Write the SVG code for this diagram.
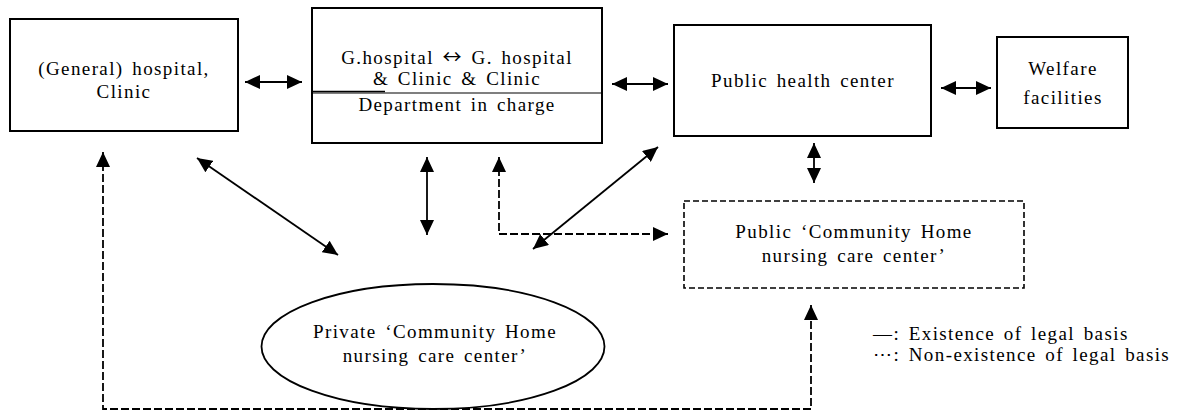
<svg xmlns="http://www.w3.org/2000/svg" width="1188" height="412" viewBox="0 0 1188 412">
<style>
  text { font-family: "Liberation Serif", "Times New Roman", serif; font-size: 19px; letter-spacing: 1.4px; word-spacing: 2.5px; fill: #000; }
  .c { text-anchor: middle; }
  .arr { font-family: "Noto Sans CJK KR", "DejaVu Sans", sans-serif; font-size: 19px; }
  .box { fill: #fff; stroke: #000; stroke-width: 2; }
  .dbox { fill: #fff; stroke: #000; stroke-width: 1.6; stroke-dasharray: 6 3; }
  .solid { fill: none; stroke: #000; stroke-width: 1.8; }
  .dash { fill: none; stroke: #000; stroke-width: 1.8; stroke-dasharray: 8 3; }
</style>
<defs>
  <marker id="ah" viewBox="0 0 15 14" refX="15" refY="7" markerWidth="15" markerHeight="14" markerUnits="userSpaceOnUse" orient="auto-start-reverse">
    <path d="M0,0 L15,7 L0,14 z" fill="#000"/>
  </marker>
</defs>
<rect width="1188" height="412" fill="#fff"/>

<g id="connectors">
  <line class="solid" x1="245" y1="82" x2="302" y2="82" marker-start="url(#ah)" marker-end="url(#ah)"/>
  <line class="solid" x1="612" y1="84" x2="668" y2="84" marker-start="url(#ah)" marker-end="url(#ah)"/>
  <line class="solid" x1="941" y1="88" x2="991" y2="88" marker-start="url(#ah)" marker-end="url(#ah)"/>
  <line class="solid" x1="814" y1="143" x2="814" y2="183" marker-start="url(#ah)" marker-end="url(#ah)"/>
  <line class="solid" x1="197" y1="158" x2="338" y2="255" marker-start="url(#ah)" marker-end="url(#ah)"/>
  <line class="solid" x1="427" y1="157" x2="427" y2="235" marker-start="url(#ah)" marker-end="url(#ah)"/>
  <line class="solid" x1="658" y1="147" x2="533" y2="249" marker-start="url(#ah)" marker-end="url(#ah)"/>
  <path class="dash" d="M499,157 L499,234 L668,234" marker-start="url(#ah)" marker-end="url(#ah)"/>
  <path class="dash" d="M103,152 L103,409 L811,409 L811,305" marker-start="url(#ah)" marker-end="url(#ah)"/>
</g>

<g id="node-hospital">
  <rect class="box" x="10" y="19" width="228" height="112"/>
  <text class="c" x="124" y="75">(General) hospital,</text>
  <text class="c" x="124" y="98">Clinic</text>
</g>

<g id="node-department">
  <rect class="box" x="312" y="8" width="290" height="135"/>
  <line x1="312" y1="93" x2="602" y2="93" stroke="#000" stroke-width="1.2"/>
  <line x1="312" y1="91.5" x2="385" y2="91.5" stroke="#000" stroke-width="1.5"/>
  <text class="c" x="457" y="64">G.hospital <tspan class="arr">↔</tspan> G. hospital</text>
  <text class="c" x="457" y="85">&amp; Clinic &amp; Clinic</text>
  <text class="c" x="457" y="111">Department in charge</text>
</g>

<g id="node-public-health">
  <rect class="box" x="674" y="25" width="257" height="111"/>
  <text class="c" x="803" y="87">Public health center</text>
</g>

<g id="node-welfare">
  <rect class="box" x="997" y="37" width="131" height="91"/>
  <text class="c" x="1063" y="75">Welfare</text>
  <text class="c" x="1063" y="104">facilities</text>
</g>

<g id="node-public-center">
  <rect class="dbox" x="684" y="201" width="340" height="87"/>
  <text class="c" x="854" y="238">Public ‘Community Home</text>
  <text class="c" x="854" y="262">nursing care center’</text>
</g>

<g id="node-private-center">
  <ellipse cx="433" cy="346.5" rx="171.5" ry="62.5" fill="#fff" stroke="#000" stroke-width="1.8"/>
  <text class="c" x="435" y="338">Private ‘Community Home</text>
  <text class="c" x="435" y="362">nursing care center’</text>
</g>

<g id="legend">
  <text x="873" y="340">—: Existence of legal basis</text>
  <text x="873" y="361">⋯: Non-existence of legal basis</text>
</g>
</svg>
